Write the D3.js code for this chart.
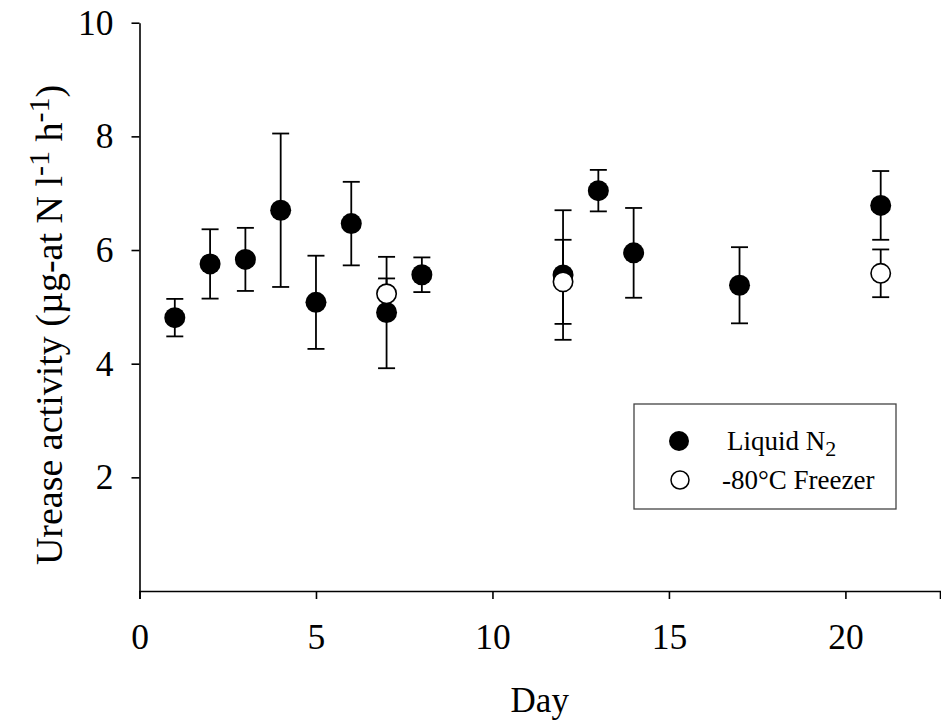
<!DOCTYPE html>
<html>
<head>
<meta charset="utf-8">
<script src="https://cdn.jsdelivr.net/npm/d3@7"></script>
<style>
  html, body { margin: 0; padding: 0; background: #fff; }
  svg { display: block; }
  text { font-family: "Liberation Serif", "Times New Roman", serif; fill: #000; }
</style>
</head>
<body>
<svg id="chart" width="941" height="724"></svg>
<script>
// ---- data ----
const days = [1, 2, 3, 4, 5, 6, 7, 8, 12, 13, 14, 17, 21];
const liquidN2 = [4.81, 5.755, 5.835, 6.70, 5.08, 6.465, 4.90, 5.565, 5.56, 7.045, 5.95, 5.38, 6.785];
const liquidN2Err = [0.33, 0.61, 0.555, 1.35, 0.82, 0.735, 0.98, 0.305, 1.14, 0.365, 0.79, 0.67, 0.605];
const freezerDays = [7, 12, 21];
const freezer = [5.23, 5.44, 5.59];
const freezerErr = [0.27, 0.74, 0.42];
const xTicks = [0, 5, 10, 15, 20];
const yTicks = [2, 4, 6, 8, 10];
const seriesNames = ["Liquid N", "-80°C Freezer"];

// ---- layout ----
const svg = d3.select("#chart");
const x = d3.scaleLinear().domain([0, 22.68]).range([139.5, 940]);
const y = d3.scaleLinear().domain([0, 10]).range([591, 22.7]);

const axisFont = 35.5;
const serif = '"Liberation Serif", "Times New Roman", serif';

// x axis
const gx = svg.append("g").attr("transform", `translate(0,${y(0)})`)
  .call(d3.axisBottom(x).tickValues(xTicks).tickSize(8).tickPadding(25).tickFormat(d3.format("d")));
gx.attr("font-family", serif);
gx.select(".domain").attr("stroke", "#000").attr("stroke-width", 1.6);
gx.selectAll(".tick line").attr("stroke", "#000").attr("stroke-width", 1.6);
gx.selectAll(".tick text").style("font-size", axisFont + "px").style("font-family", serif);

// y axis
const gy = svg.append("g").attr("transform", `translate(${x(0)},0)`)
  .call(d3.axisLeft(y).tickValues(yTicks).tickSize(8).tickPadding(18).tickSizeOuter(0).tickFormat(d3.format("d")));
gy.attr("font-family", serif);
gy.select(".domain").attr("stroke", "#000").attr("stroke-width", 1.6);
gy.selectAll(".tick line").attr("stroke", "#000").attr("stroke-width", 1.6);
gy.selectAll(".tick text").style("font-size", axisFont + "px").style("font-family", serif);

// axis titles
svg.append("text").attr("x", (x(0) + 940) / 2).attr("y", 712)
  .attr("text-anchor", "middle").style("font-size", "35px").text("Day");

const yt = svg.append("text")
  .attr("transform", `translate(62,325) rotate(-90)`)
  .attr("text-anchor", "middle").style("font-size", "38px");
yt.append("tspan").text("Urease activity (\u00B5g-at N l");
yt.append("tspan").attr("dy", -13).style("font-size", "30px").text("-1");
yt.append("tspan").attr("dy", 13).text(" h");
yt.append("tspan").attr("dy", -13).style("font-size", "30px").text("-1");
yt.append("tspan").attr("dy", 13).text(")");

// ---- series ----
const capW = 8.5, r = 10.5;
function drawSeries(xs, vals, errs, fill) {
  const g = svg.append("g");
  const data = xs.map((d, i) => ({ d, v: vals[i], e: errs[i] }));
  const eb = g.selectAll("g.eb").data(data).enter().append("g")
    .attr("stroke", "#000").attr("stroke-width", 1.8);
  eb.append("line").attr("x1", p => x(p.d)).attr("x2", p => x(p.d))
    .attr("y1", p => y(p.v - p.e)).attr("y2", p => y(p.v + p.e));
  eb.append("line").attr("x1", p => x(p.d) - capW).attr("x2", p => x(p.d) + capW)
    .attr("y1", p => y(p.v + p.e)).attr("y2", p => y(p.v + p.e));
  eb.append("line").attr("x1", p => x(p.d) - capW).attr("x2", p => x(p.d) + capW)
    .attr("y1", p => y(p.v - p.e)).attr("y2", p => y(p.v - p.e));
  g.selectAll("circle").data(data).enter().append("circle")
    .attr("cx", p => x(p.d)).attr("cy", p => y(p.v))
    .attr("r", fill === "#000" ? r : r - 0.8)
    .attr("fill", fill).attr("stroke", "#000").attr("stroke-width", fill === "#000" ? 0 : 1.6);
}
drawSeries(days, liquidN2, liquidN2Err, "#000");
drawSeries(freezerDays, freezer, freezerErr, "#fff");

// ---- legend ----
const lg = svg.append("g");
lg.append("rect").attr("x", 634).attr("y", 404).attr("width", 262).attr("height", 105)
  .attr("fill", "#fff").attr("stroke", "#444").attr("stroke-width", 1.3);
lg.append("circle").attr("cx", 679).attr("cy", 441).attr("r", 10).attr("fill", "#000");
lg.append("circle").attr("cx", 680).attr("cy", 480).attr("r", 9).attr("fill", "#fff")
  .attr("stroke", "#000").attr("stroke-width", 1.5);
const t1 = lg.append("text").attr("x", 727).attr("y", 450).style("font-size", "27px");
t1.append("tspan").text(seriesNames[0]);
t1.append("tspan").attr("dy", 6).style("font-size", "22px").text("2");
lg.append("text").attr("x", 722).attr("y", 489).style("font-size", "27px").text(seriesNames[1]);
</script>
</body>
</html>
